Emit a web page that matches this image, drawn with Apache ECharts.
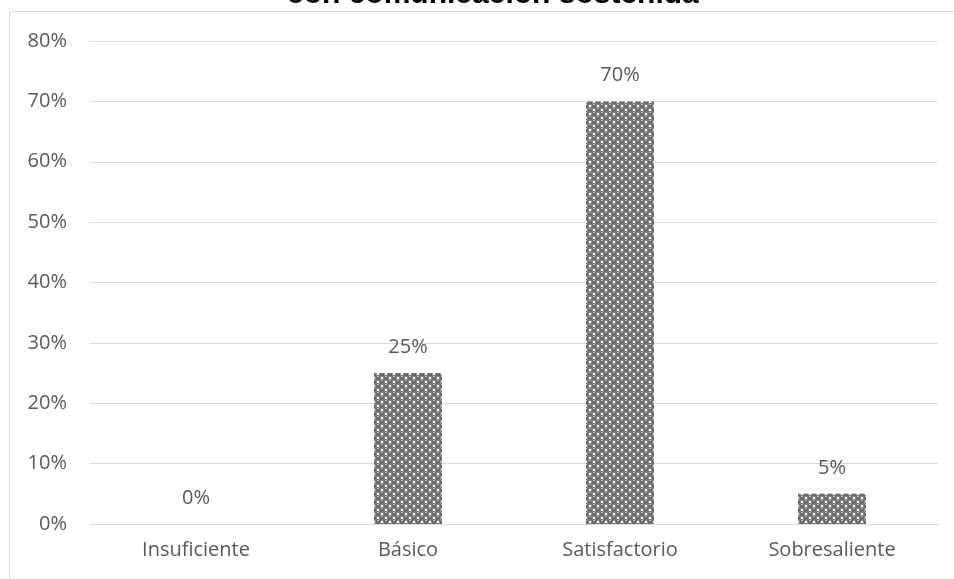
<!DOCTYPE html>
<html><head><meta charset="utf-8">
<script src="https://cdn.jsdelivr.net/npm/echarts@6/dist/echarts.min.js"></script>
<style>html,body{margin:0;padding:0;background:#fff}#c{width:954px;height:579px}</style>
</head><body><div id="c"></div>
<script>
const categories = ['Insuficiente', 'Básico', 'Satisfactorio', 'Sobresaliente'];
const values = [0, 25, 70, 5];
const yTicks = [0, 10, 20, 30, 40, 50, 60, 70, 80];
const titleText = 'con comunicación sostenida';

function makePattern() {
  const c = document.createElement('canvas');
  c.width = 8; c.height = 8;
  const g = c.getContext('2d');
  g.fillStyle = '#ffffff';
  g.fillRect(0, 0, 8, 8);
  const dots = [[2,2],[6,6],[-2,6],[6,-2],[10,2],[2,10],[-2,-2],[10,10]];
  g.fillStyle = '#6c6c6c';
  dots.forEach(([x,y]) => { g.beginPath(); g.arc(x, y, 2.9, 0, Math.PI*2); g.fill(); });
  g.fillStyle = '#bdbdbd';
  [[2,2],[6,6]].forEach(([x,y]) => { g.fillRect(x-1, y-2, 2, 1); });
  return c;
}

const chart = echarts.init(document.getElementById('c'), null, {renderer: 'canvas'});
chart.setOption({
  animation: false,
  graphic: [{
    type: 'rect', shape: {x: 9.5, y: 11.5, width: 960, height: 600},
    style: {fill: 'none', stroke: '#d9d9d9', lineWidth: 1}, z: -10
  }],
  title: {
    text: titleText, left: 282, top: -25,
    textStyle: {fontFamily: 'Liberation Sans', fontWeight: 'bold', fontSize: 30, color: '#000'}
  },
  grid: {left: 90, right: 16, top: 41, bottom: 55},
  xAxis: {
    type: 'category', data: categories,
    axisLine: {lineStyle: {color: '#d9d9d9'}},
    axisTick: {show: false},
    axisLabel: {color: '#595959', fontFamily: 'Open Sans', fontSize: 20, margin: 16}
  },
  yAxis: {
    type: 'value', min: yTicks[0], max: yTicks[yTicks.length-1], interval: 10,
    axisLine: {show: false}, axisTick: {show: false},
    splitLine: {lineStyle: {color: '#d9d9d9'}},
    axisLabel: {color: '#595959', fontFamily: 'Open Sans', fontSize: 20, margin: 23, formatter: v => v + '%'}
  },
  series: [{
    type: 'bar', data: values, barWidth: 68,
    itemStyle: {color: {image: makePattern(), repeat: 'repeat'}},
    label: {show: true, position: 'top', distance: 16, color: '#595959',
      fontFamily: 'Open Sans', fontSize: 20, formatter: p => p.value + '%'}
  }]
});
</script></body></html>
